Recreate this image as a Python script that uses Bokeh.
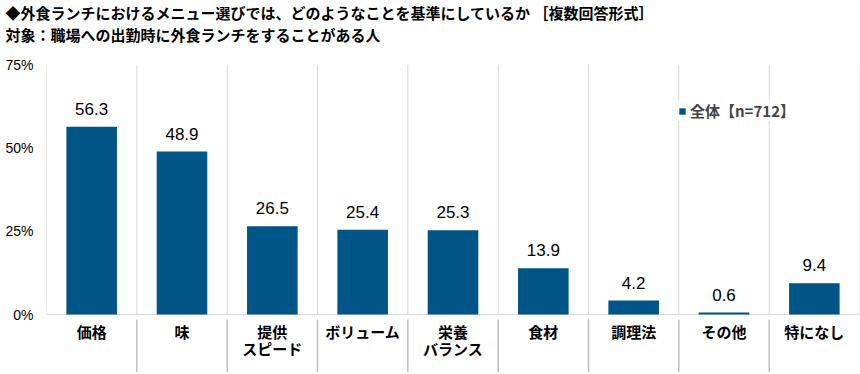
from bokeh.plotting import figure
from bokeh.models import Range1d, FixedTicker, Legend, LegendItem, ColumnDataSource, Title
from bokeh.core.properties import value
from bokeh.embed import file_html
from bokeh.resources import INLINE

title_line1 = "◆外食ランチにおけるメニュー選びでは、どのようなことを基準にしているか ［複数回答形式］"
title_line2 = "対象：職場への出勤時に外食ランチをすることがある人"
categories = ["価格", "味", "提供\nスピード", "ボリューム", "栄養\nバランス", "食材", "調理法", "その他", "特になし"]
values = [56.3, 48.9, 26.5, 25.4, 25.3, 13.9, 4.2, 0.6, 9.4]
y_ticks = [0, 25, 50, 75]
y_tick_labels = ["0%", "25%", "50%", "75%"]
legend_label = "全体【n=712】"

BAR = "#005587"
JP = "Noto Sans CJK JP"
NUM = "Liberation Sans"

n = len(categories)
centers = [i + 0.5 for i in range(n)]
bounds = list(range(n + 1))
inner = list(range(1, n))
y_low = -17.4

p = figure(width=860, height=372, x_range=Range1d(0, n), y_range=Range1d(y_low, 75),
           output_backend="svg", toolbar_location=None,
           min_border_left=46, min_border_right=1, min_border_top=64, min_border_bottom=0)
p.outline_line_color = None
p.grid.visible = False
p.xaxis.visible = False
p.background_fill_color = "white"
p.border_fill_color = "white"

p.title = Title(text=title_line1 + "\n" + title_line2, align="left", vertical_align="top",
                offset=-41, standoff=1,
                text_font=JP, text_font_style="bold", text_font_size="15px",
                text_color="black", text_line_height=1.05)
# small spacer between the title block and the plot frame
p.add_layout(Title(text=" ", text_font_size="1px", standoff=14), "above")

ya = p.yaxis[0]
ya.ticker = FixedTicker(ticks=y_ticks)
ya.major_label_overrides = dict(zip(y_ticks, y_tick_labels))
ya.axis_line_color = None
ya.major_tick_line_color = None
ya.minor_tick_line_color = None
ya.major_tick_out = 0
ya.major_tick_in = 0
ya.major_label_standoff = 13
ya.major_label_text_font = NUM
ya.major_label_text_font_size = "14px"
ya.major_label_text_color = "black"

# vertical grid lines between categories
p.segment(x0=bounds, x1=bounds, y0=[0] * len(bounds), y1=[75] * len(bounds),
          line_color="#D9D9D9", line_width=1)
# baseline
p.segment(x0=[0], x1=[n], y0=[0], y1=[0], line_color="#D9D9D9", line_width=1)
# separators between category labels
p.segment(x0=inner, x1=inner, y0=[-1.5] * len(inner), y1=[y_low] * len(inner),
          line_color="#BFBFBF", line_width=1.5)

src = ColumnDataSource(dict(x=centers, top=values, lab=[f"{v:.1f}" for v in values], cat=categories))
bars = p.vbar(x="x", top="top", width=0.56, source=src, fill_color=BAR, line_color=None)

p.text(x="x", y="top", text="lab", source=src, text_align="center", text_baseline="alphabetic",
       y_offset=-18, text_font=value(NUM), text_font_size="17px", text_color="black")

p.text(x="x", y=0, text="cat", source=src, text_align="center", text_baseline="top",
       y_offset=6, text_font=value(JP), text_font_style="bold", text_font_size="15px",
       text_line_height=0.81, text_color="black")

legend = Legend(items=[LegendItem(label=legend_label, renderers=[bars])], location=(632, 251),
                glyph_width=8, glyph_height=8, label_standoff=4, padding=6, margin=0,
                label_text_font=JP, label_text_font_style="bold", label_text_font_size="15px",
                background_fill_color="white", background_fill_alpha=1, border_line_color=None)
p.add_layout(legend)

open("out.html", "w").write(file_html(p, INLINE))
